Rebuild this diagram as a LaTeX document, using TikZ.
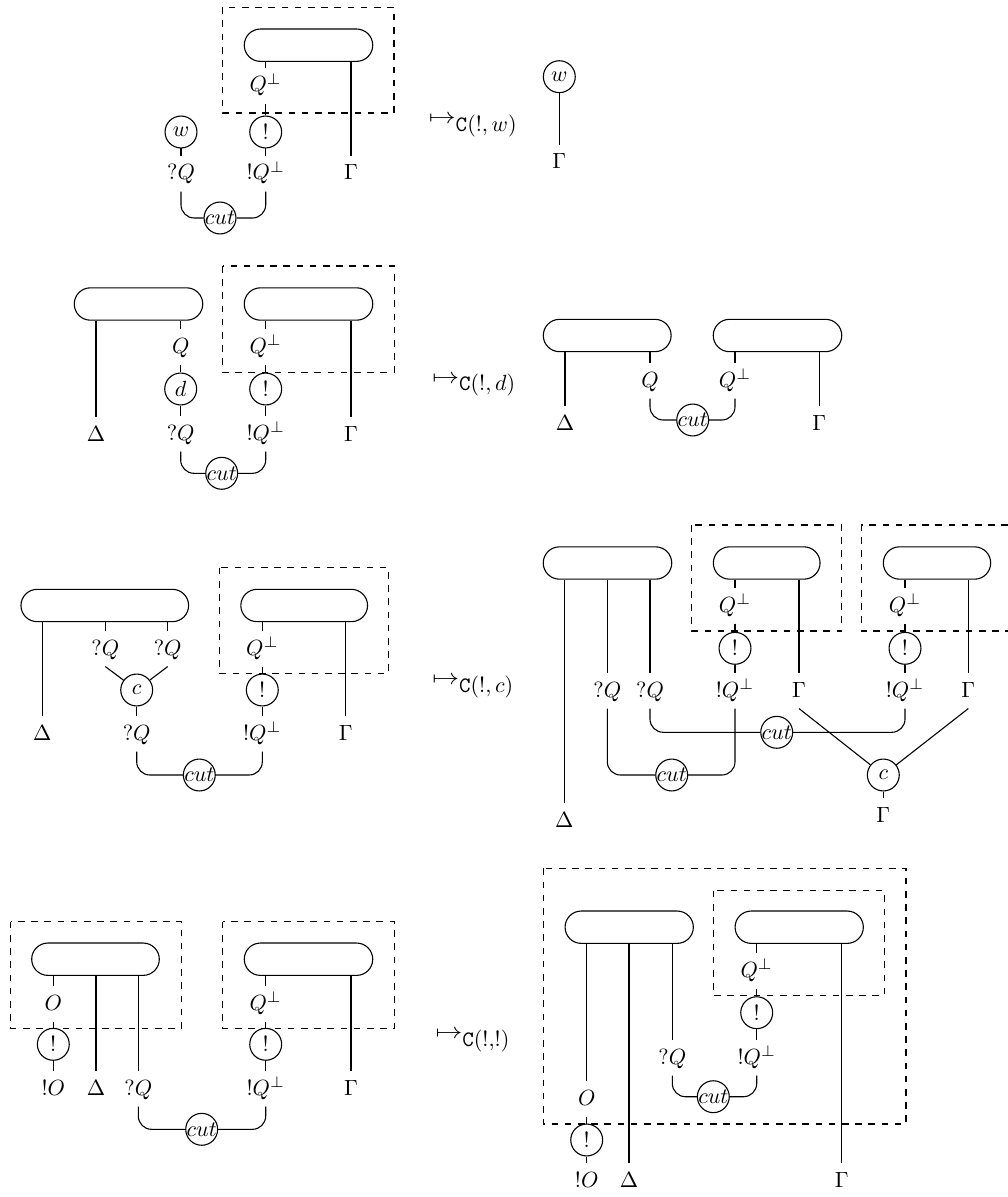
\documentclass[tikz,border=0pt]{standalone}
\usepackage{amsmath}
\usetikzlibrary{shapes.misc}
\newcommand{\mapsarrow}[1]{\scalebox{1.22}[1]{$\mapsto$}\raisebox{-3.6pt}{$#1$}}
\begin{document}
\begin{tikzpicture}[x=0.4545pt,y=-0.4545pt,line width=0.5pt,
  pill/.style={draw,rounded rectangle,minimum height=14.7pt,inner sep=0pt},
  gate/.style={draw,circle,minimum size=14.5pt,inner sep=0pt},
  lab/.style={inner sep=2.5pt,text height=8pt,text depth=2.5pt,anchor=base},
  boxline/.style={dashed,line width=0.5pt},
  arr/.style={anchor=base west,inner sep=0pt},
  cutw/.style={rounded corners=6pt}]
\useasboundingbox (0,0) rectangle (1008,1197);

% ================= Row 1 =================
\draw[boxline] (222.7,7.3) rectangle (394,113);
\node[pill,minimum width=58.4pt] (r1p) at (308.5,45.2) {};
\node[lab] (r1qp) at (265.7,92) {$Q^\perp$};
\node[gate] (r1bang) at (265.7,132) {$!$};
\node[lab] (r1bq) at (265.7,180) {$!Q^\perp$};
\node[lab] (r1g) at (351,180) {$\Gamma$};
\node[gate] (r1w) at (181,132) {$w$};
\node[lab] (r1wq) at (181,180) {$?Q$};
\node[gate] (r1cut) at (220,218) {\makebox[0pt]{$cut$}};
\draw (r1p.south -| r1qp.north) -- (r1qp.north);
\draw (r1qp.south) -- (r1bang.north);
\draw (r1bang.south) -- (r1bq.north);
\draw (r1p.south -| r1g.north) -- (r1g.north);
\draw (r1w.south) -- (r1wq.north);
\draw[cutw] (r1wq.south) |- (r1cut.west);
\draw[cutw] (r1cut.east) -| (r1bq.south);
\node[arr] (r1a) at (428.3,123.8) {\mapsarrow{\mathtt{C}(!{,}\,w)}};
\node[gate] (r1w2) at (559.3,76.7) {$w$};
\node[lab] (r1g2) at (559.3,168.7) {$\Gamma$};
\draw (r1w2.south) -- (r1g2.north);

% ================= Row 2 left =================
\draw[boxline] (222.7,266) rectangle (394.3,372.3);
\node[pill,minimum width=58.4pt] (r2pl) at (138.5,304) {};
\node[pill,minimum width=58.4pt] (r2pr) at (308.5,304) {};
\node[lab] (r2D) at (96,441) {$\Delta$};
\node[lab] (r2q) at (180.7,353) {$Q$};
\node[gate] (r2d) at (180.7,389) {$d$};
\node[lab] (r2wq) at (180.7,440) {$?Q$};
\node[lab] (r2qp) at (265.7,353) {$Q^\perp$};
\node[gate] (r2bang) at (265.7,389) {$!$};
\node[lab] (r2bq) at (265.7,440) {$!Q^\perp$};
\node[lab] (r2g) at (351,441) {$\Gamma$};
\node[gate] (r2cut) at (221.7,473.3) {\makebox[0pt]{$cut$}};
\draw (r2pl.south -| r2D.north) -- (r2D.north);
\draw (r2pl.south -| r2q.north) -- (r2q.north);
\draw (r2q.south) -- (r2d.north);
\draw (r2d.south) -- (r2wq.north);
\draw (r2pr.south -| r2qp.north) -- (r2qp.north);
\draw (r2qp.south) -- (r2bang.north);
\draw (r2bang.south) -- (r2bq.north);
\draw (r2pr.south -| r2g.north) -- (r2g.north);
\draw[cutw] (r2wq.south) |- (r2cut.west);
\draw[cutw] (r2cut.east) -| (r2bq.south);
\node[arr] (r2a) at (431.7,383) {\mapsarrow{\mathtt{C}(!{,}\,d)}};

% ================= Row 2 right =================
\node[pill,minimum width=58.1pt] (r2rl) at (607.2,335.5) {};
\node[pill,minimum width=58.4pt] (r2rr) at (777.5,335.5) {};
\node[lab] (r2rD) at (565,430) {$\Delta$};
\node[lab] (r2rq) at (650,387) {$Q$};
\node[lab] (r2rqp) at (735,387) {$Q^\perp$};
\node[lab] (r2rg) at (819.3,430) {$\Gamma$};
\node[gate] (r2rcut) at (692.7,420) {\makebox[0pt]{$cut$}};
\draw (r2rl.south -| r2rD.north) -- (r2rD.north);
\draw (r2rl.south -| r2rq.north) -- (r2rq.north);
\draw (r2rr.south -| r2rqp.north) -- (r2rqp.north);
\draw (r2rr.south -| r2rg.north) -- (r2rg.north);
\draw[cutw] (r2rq.south) |- (r2rcut.west);
\draw[cutw] (r2rcut.east) -| (r2rqp.south);

% ================= Row 3 left =================
\draw[boxline] (219.3,567.7) rectangle (388.7,673.3);
\node[pill,minimum width=76.2pt] (r3pl) at (104.8,605.5) {};
\node[pill,minimum width=57.6pt] (r3pr) at (304.2,605.5) {};
\node[lab] (r3D) at (42.3,740) {$\Delta$};
\node[lab] (r3qa) at (105.3,655) {$?Q$};
\node[lab] (r3qb) at (167.7,655) {$?Q$};
\node[gate] (r3c) at (136.7,690) {$c$};
\node[lab] (r3wq) at (136.7,740) {$?Q$};
\node[lab] (r3qp) at (262.3,655) {$Q^\perp$};
\node[gate] (r3bang) at (262.3,690) {$!$};
\node[lab] (r3bq) at (262.3,740) {$!Q^\perp$};
\node[lab] (r3g) at (345.7,740) {$\Gamma$};
\node[gate] (r3cut) at (199.3,775) {\makebox[0pt]{$cut$}};
\draw (r3pl.south -| r3D.north) -- (r3D.north);
\draw (r3pl.south -| r3qa.north) -- (r3qa.north);
\draw (r3pl.south -| r3qb.north) -- (r3qb.north);
\draw (r3qa.south) -- (r3c);
\draw (r3qb.south) -- (r3c);
\draw (r3c.south) -- (r3wq.north);
\draw (r3pr.south -| r3qp.north) -- (r3qp.north);
\draw (r3qp.south) -- (r3bang.north);
\draw (r3bang.south) -- (r3bq.north);
\draw (r3pr.south -| r3g.north) -- (r3g.north);
\draw[cutw] (r3wq.south) |- (r3cut.west);
\draw[cutw] (r3cut.east) -| (r3bq.south);
\node[arr] (r3a) at (431.7,684.8) {\mapsarrow{\mathtt{C}(!{,}\,c)}};

% ================= Row 3 right =================
\draw[boxline] (691.7,525) rectangle (841.7,631);
\draw[boxline] (1008,525) -- (861.7,525) -- (861.7,631) -- (1008,631);
\node[pill,minimum width=58.4pt] (r3ra) at (607.5,563) {};
\node[pill,minimum width=48.5pt] (r3rb) at (766.7,563) {};
\node[pill,minimum width=48.8pt] (r3rc) at (937,563) {};
\node[lab] (r3rD) at (564.3,827) {$\Delta$};
\node[lab] (r3rqa) at (607.3,697) {$?Q$};
\node[lab] (r3rqb) at (650,697) {$?Q$};
\node[lab] (r3rqpb) at (735,612) {$Q^\perp$};
\node[gate] (r3rbangb) at (735,648.3) {$!$};
\node[lab] (r3rbqb) at (735,697) {$!Q^\perp$};
\node[lab] (r3rgb) at (799,697) {$\Gamma$};
\node[lab] (r3rqpc) at (905,612) {$Q^\perp$};
\node[gate] (r3rbangc) at (905,648.3) {$!$};
\node[lab] (r3rbqc) at (905,697) {$!Q^\perp$};
\node[lab] (r3rgc) at (968.3,697) {$\Gamma$};
\node[gate] (r3rcutu) at (776.7,732.3) {\makebox[0pt]{$cut$}};
\node[gate] (r3rcutl) at (671.7,775) {\makebox[0pt]{$cut$}};
\node[gate] (r3rc1) at (883.3,775) {$c$};
\node[lab] (r3rgg) at (883.3,822) {$\Gamma$};
\draw (r3ra.south -| r3rD.north) -- (r3rD.north);
\draw (r3ra.south -| r3rqa.north) -- (r3rqa.north);
\draw (r3ra.south -| r3rqb.north) -- (r3rqb.north);
\draw (r3rb.south -| r3rqpb.north) -- (r3rqpb.north);
\draw (r3rqpb.south) -- (r3rbangb.north);
\draw (r3rbangb.south) -- (r3rbqb.north);
\draw (r3rb.south -| r3rgb.north) -- (r3rgb.north);
\draw (r3rc.south -| r3rqpc.north) -- (r3rqpc.north);
\draw (r3rqpc.south) -- (r3rbangc.north);
\draw (r3rbangc.south) -- (r3rbqc.north);
\draw (r3rc.south -| r3rgc.north) -- (r3rgc.north);
\draw[cutw] (r3rqb.south) |- (r3rcutu.west);
\draw[cutw] (r3rcutu.east) -| (r3rbqc.south);
\draw[cutw] (r3rqa.south) |- (r3rcutl.west);
\draw[cutw] (r3rcutl.east) -| (r3rbqb.south);
\draw (r3rgb.south) -- (r3rc1);
\draw (r3rgc.south) -- (r3rc1);
\draw (r3rc1.south) -- (r3rgg.north);

% ================= Row 4 left =================
\draw[boxline] (10.7,921.7) rectangle (181.7,1028.3);
\draw[boxline] (222.7,921.7) rectangle (394.3,1028.3);
\node[pill,minimum width=58.0pt] (r4pl) at (95.5,959.2) {};
\node[pill,minimum width=58.4pt] (r4pr) at (308.5,959.2) {};
\node[lab] (r4o) at (53.3,1010) {$O$};
\node[gate] (r4bango) at (53.3,1044.3) {$!$};
\node[lab] (r4bo) at (53.3,1095) {$!O$};
\node[lab] (r4D) at (96,1095) {$\Delta$};
\node[lab] (r4wq) at (138.3,1095) {$?Q$};
\node[lab] (r4qp) at (265.7,1010) {$Q^\perp$};
\node[gate] (r4bang) at (265.7,1044.3) {$!$};
\node[lab] (r4bq) at (265.7,1095) {$!Q^\perp$};
\node[lab] (r4g) at (351,1095) {$\Gamma$};
\node[gate] (r4cut) at (201.7,1129.3) {\makebox[0pt]{$cut$}};
\draw (r4pl.south -| r4o.north) -- (r4o.north);
\draw (r4o.south) -- (r4bango.north);
\draw (r4bango.south) -- (r4bo.north);
\draw (r4pl.south -| r4D.north) -- (r4D.north);
\draw (r4pl.south -| r4wq.north) -- (r4wq.north);
\draw (r4pr.south -| r4qp.north) -- (r4qp.north);
\draw (r4qp.south) -- (r4bang.north);
\draw (r4bang.south) -- (r4bq.north);
\draw (r4pr.south -| r4g.north) -- (r4g.north);
\draw[cutw] (r4wq.south) |- (r4cut.west);
\draw[cutw] (r4cut.east) -| (r4bq.south);
\node[arr] (r4a) at (435,1038.2) {\mapsarrow{\mathtt{C}(!{,}!)}};

% ================= Row 4 right =================
\draw[boxline] (543.3,868.3) rectangle (906,1124);
\draw[boxline] (713.3,890.7) rectangle (884.3,995.7);
\node[pill,minimum width=58.3pt] (r4rl) at (629.2,927.2) {};
\node[pill,minimum width=58.3pt] (r4rr) at (799.2,927.2) {};
\node[lab] (r4ro) at (586.7,1105) {$O$};
\node[gate] (r4rbango) at (586.7,1140) {$!$};
\node[lab] (r4rbo) at (586.7,1187) {$!O$};
\node[lab] (r4rD) at (629,1187) {$\Delta$};
\node[lab] (r4rwq) at (672.3,1064) {$?Q$};
\node[lab] (r4rqp) at (756.7,977) {$Q^\perp$};
\node[gate] (r4rbang) at (756.7,1012.7) {$!$};
\node[lab] (r4rbq) at (756.7,1064) {$!Q^\perp$};
\node[lab] (r4rg) at (841.7,1187) {$\Gamma$};
\node[gate] (r4rcut) at (713.3,1096.7) {\makebox[0pt]{$cut$}};
\draw (r4rl.south -| r4ro.north) -- (r4ro.north);
\draw (r4ro.south) -- (r4rbango.north);
\draw (r4rbango.south) -- (r4rbo.north);
\draw (r4rl.south -| r4rD.north) -- (r4rD.north);
\draw (r4rl.south -| r4rwq.north) -- (r4rwq.north);
\draw (r4rr.south -| r4rqp.north) -- (r4rqp.north);
\draw (r4rqp.south) -- (r4rbang.north);
\draw (r4rbang.south) -- (r4rbq.north);
\draw (r4rr.south -| r4rg.north) -- (r4rg.north);
\draw[cutw] (r4rwq.south) |- (r4rcut.west);
\draw[cutw] (r4rcut.east) -| (r4rbq.south);
\end{tikzpicture}
\end{document}
